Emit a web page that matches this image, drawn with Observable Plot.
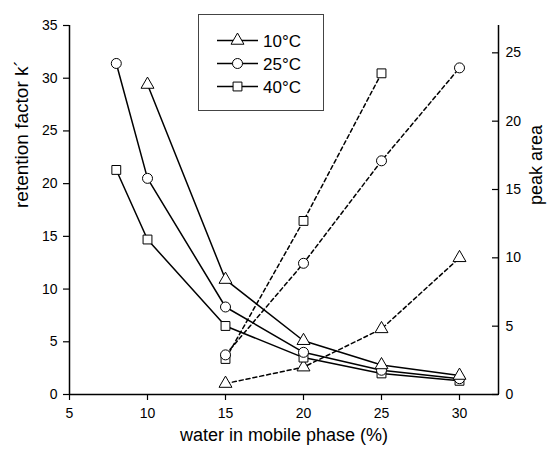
<!DOCTYPE html>
<html>
<head>
<meta charset="utf-8">
<script src="https://cdn.jsdelivr.net/npm/d3@7"></script>
<script src="https://cdn.jsdelivr.net/npm/@observablehq/plot@0.6"></script>
<style>
  body { margin: 0; background: #fff; }
  #chart svg { font-family: "Liberation Sans", Arial, sans-serif; }
</style>
</head>
<body>
<div id="chart"></div>
<script>
// ---- data ----
const temps = ["10°C", "25°C", "40°C"];
const symbols = ["triangle", "circle", "square"];

const kX10 = [10, 15, 20, 25, 30];
const kY10 = [29.4, 10.9, 5.1, 2.8, 1.8];
const kX25 = [8, 10, 15, 20, 25, 30];
const kY25 = [31.4, 20.5, 8.3, 4.0, 2.3, 1.5];
const kX40 = [8, 10, 15, 20, 25, 30];
const kY40 = [21.3, 14.7, 6.5, 3.5, 2.0, 1.3];

const aX10 = [15, 20, 25, 30];
const aY10 = [0.8, 2.0, 4.8, 10.0];
const aX25 = [15, 20, 25, 30];
const aY25 = [2.9, 9.6, 17.1, 23.9];
const aX40 = [15, 20, 25];
const aY40 = [2.6, 12.7, 23.5];

const xTicks = [5, 10, 15, 20, 25, 30];
const yTicks = [0, 5, 10, 15, 20, 25, 30, 35];
const y2Ticks = [0, 5, 10, 15, 20, 25];

const xDomain = [5, 32.5];
const yMax = 35;
const y2Max = 27;
const S = yMax / y2Max; // map right-axis values onto the left scale

const mk = (xs, ys, t, sc = 1) => xs.map((x, i) => ({x, y: ys[i] * sc, t}));
const kData = [mk(kX40, kY40, "40°C"), mk(kX25, kY25, "25°C"), mk(kX10, kY10, "10°C")];
const aData = [mk(aX40, aY40, "40°C", S), mk(aX25, aY25, "25°C", S), mk(aX10, aY10, "10°C", S)];

const symOf = t => symbols[temps.indexOf(t)];
const rOf = t => (t === "10°C" ? 4.8 : 5);

const marks = [];
// axis lines
marks.push(Plot.ruleX([xDomain[0]], {stroke: "#000", strokeWidth: 1.5}));
marks.push(Plot.ruleX([xDomain[1]], {stroke: "#000", strokeWidth: 1.5}));
marks.push(Plot.ruleY([0], {stroke: "#000", strokeWidth: 1.5}));
// axes
marks.push(Plot.axisX(xTicks, {tickSize: 6, tickPadding: 8, fontSize: 14, label: null, strokeWidth: 1.2}));
marks.push(Plot.axisY(yTicks, {tickSize: 6, tickPadding: 6, fontSize: 14, label: null, strokeWidth: 1.2}));
marks.push(Plot.axisY(y2Ticks.map(v => v * S), {anchor: "right", tickSize: 7, dx: -7, text: null, label: null, strokeWidth: 1.2}));
marks.push(Plot.axisY(y2Ticks.map(v => v * S), {anchor: "right", tickSize: 0, tickPadding: 7, fontSize: 14, label: null, tickFormat: d => String(Math.round(d / S))}));

// lines
for (const d of kData) marks.push(Plot.line(d, {x: "x", y: "y", stroke: "#000", strokeWidth: 1.5}));
for (const d of aData) marks.push(Plot.line(d, {x: "x", y: "y", stroke: "#000", strokeWidth: 1.5, strokeDasharray: "4,3"}));
// dots
for (const d of [...aData, ...kData]) {
  const t = d[0].t;
  marks.push(Plot.dot(d, {x: "x", y: "y", symbol: () => symOf(t), r: rOf(t), fill: "#fff", stroke: "#000", strokeWidth: 1}));
}

// axis titles
marks.push(Plot.text(["water in mobile phase (%)"], {frameAnchor: "bottom", dy: 46, fontSize: 18}));
marks.push(Plot.text(["retention factor k´"], {frameAnchor: "left", dx: -48, dy: -2, rotate: -90, fontSize: 19}));
marks.push(Plot.text(["peak area"], {frameAnchor: "right", dx: 38, dy: -85, rotate: -90, fontSize: 18}));

const chart = Plot.plot({
  width: 547,
  height: 450,
  marginLeft: 69,
  marginRight: 49,
  marginTop: 25,
  marginBottom: 56,
  x: {domain: xDomain},
  y: {domain: [0, yMax]},
  symbol: {type: "identity"},
  style: {fontFamily: "Liberation Sans, Arial, sans-serif", color: "#000", background: "#fff"},
  marks
});

// legend (drawn in the SVG)
const svg = d3.select(chart);
const lg = svg.append("g");
lg.append("rect").attr("x", 198.5).attr("y", 14.5).attr("width", 125).attr("height", 96)
  .attr("fill", "#fff").attr("stroke", "#444").attr("stroke-width", 1);
const rowY = [40.5, 63.5, 86.5];
temps.forEach((t, i) => {
  const y = rowY[i];
  lg.append("line").attr("x1", 217).attr("x2", 258).attr("y1", y).attr("y2", y)
    .attr("stroke", "#000").attr("stroke-width", 1.5);
  const sym = d3.symbol().type([d3.symbolTriangle, d3.symbolCircle, d3.symbolSquare][i]).size(Math.PI * rOf(t) ** 2);
  lg.append("path").attr("d", sym()).attr("transform", `translate(237.5,${y})`)
    .attr("fill", "#fff").attr("stroke", "#000").attr("stroke-width", 1);
  lg.append("text").attr("x", 263).attr("y", y).attr("dy", "0.36em")
    .attr("text-anchor", "start").attr("font-size", 17).attr("fill", "#000").text(t);
});

document.getElementById("chart").appendChild(chart);
</script>
</body>
</html>
